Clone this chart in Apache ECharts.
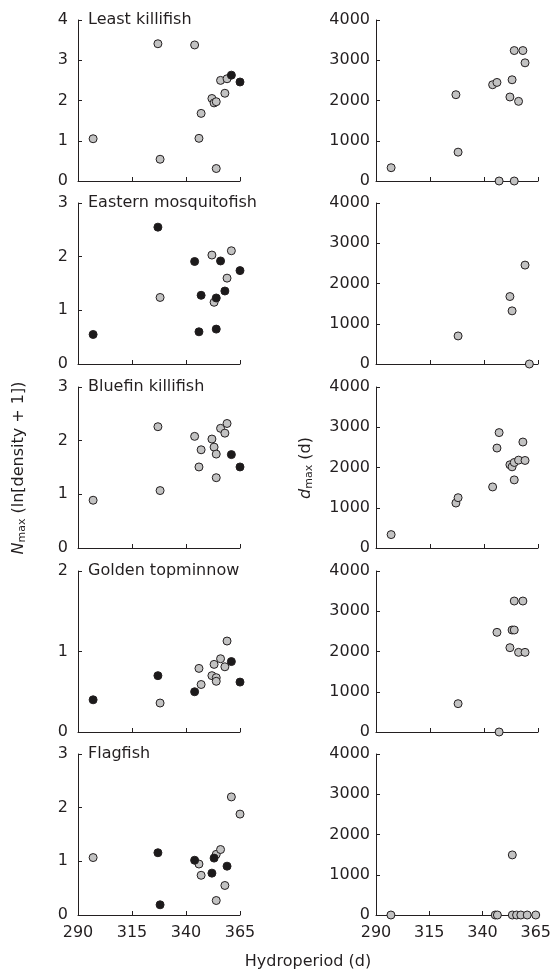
<!DOCTYPE html>
<html>
<head>
<meta charset="utf-8">
<script src="https://cdn.jsdelivr.net/npm/echarts@6/dist/echarts.min.js"></script>
<style>
  html, body { margin: 0; padding: 0; background: #fff; }
  #chart { width: 554px; height: 980px; }
</style>
</head>
<body>
<div id="chart"></div>
<script>
// Species shown in each row (top to bottom)
const species = ['Least killifish', 'Eastern mosquitofish', 'Bluefin killifish', 'Golden topminnow', 'Flagfish']
const hydroTicks = [290, 315, 340, 365]
const nmaxTop = [4, 3, 3, 2, 3]
const dmaxTicks = [0, 1000, 2000, 3000, 4000]

// Nmax, [hydroperiod, ln(density + 1)] - grey = sites with dmax, black = others
const leastGrey = [[297, 1.05], [327, 3.41], [328, 0.54], [344, 3.38], [346, 1.06], [347, 1.68], [352, 2.05], [353, 1.94], [354, 1.97], [354, 0.31], [356, 2.5], [358, 2.18], [359, 2.54]]
const leastBlack = [[361, 2.63], [365, 2.46]]
const mosqGrey = [[328, 1.24], [352, 2.03], [353, 1.15], [359, 1.6], [361, 2.11]]
const mosqBlack = [[297, 0.55], [327, 2.55], [344, 1.91], [346, 0.6], [347, 1.28], [354, 1.23], [354, 0.65], [356, 1.92], [358, 1.36], [365, 1.74]]
const bluefinGrey = [[297, 0.89], [327, 2.26], [328, 1.07], [344, 2.08], [346, 1.51], [347, 1.83], [352, 2.03], [353, 1.88], [354, 1.75], [354, 1.31], [356, 2.23], [358, 2.14], [359, 2.32]]
const bluefinBlack = [[361, 1.74], [365, 1.51]]
const goldenGrey = [[328, 0.36], [346, 0.79], [347, 0.59], [352, 0.7], [353, 0.84], [354, 0.675], [354, 0.63], [356, 0.91], [358, 0.81], [359, 1.13]]
const goldenBlack = [[297, 0.4], [327, 0.7], [344, 0.5], [361, 0.875], [365, 0.62]]
const flagGrey = [[297, 1.07], [346, 0.95], [347, 0.74], [354, 1.13], [354, 0.27], [356, 1.22], [358, 0.55], [361, 2.2], [365, 1.88]]
const flagBlack = [[327, 1.16], [328, 0.19], [344, 1.02], [352, 0.78], [353, 1.06], [359, 0.91]]

// dmax, [hydroperiod, days]
const leastDays = [[297, 330], [327, 2144], [328, 717], [344, 2392], [346, 2449], [347, 0], [352, 2087], [353, 2515], [354, 3241], [354, 0], [356, 1979], [358, 3241], [359, 2936]]
const mosqDays = [[328, 697], [352, 1676], [353, 1320], [359, 2457], [361, 0]]
const bluefinDays = [[297, 333], [327, 1117], [328, 1250], [344, 1517], [346, 2483], [347, 2867], [352, 2067], [353, 2017], [354, 1692], [354, 2125], [356, 2183], [358, 2633], [359, 2175]]
const goldenDays = [[328, 704], [346, 2476], [347, 0], [352, 2095], [353, 2534], [354, 2534], [354, 3254], [356, 1979], [358, 3254], [359, 1979]]
const flagDays = [[297, 0], [346, 0], [347, 0], [354, 1493], [354, 0], [356, 0], [358, 0], [361, 0], [365, 0]]

const greyPts = [leastGrey, mosqGrey, bluefinGrey, goldenGrey, flagGrey]
const blackPts = [leastBlack, mosqBlack, bluefinBlack, goldenBlack, flagBlack]
const dayPts = [leastDays, mosqDays, bluefinDays, goldenDays, flagDays]

const FONT = '"DejaVu Sans", Verdana, sans-serif'
const FS = 16
const INK = '#231f20'
const tops = [20, 203, 387, 571, 754]
const panelH = 161
const panelW = 162
const leftX = 78
const rightX = 376

const chart = echarts.init(document.getElementById('chart'), null, { renderer: 'canvas' })

const grid = []
const xAxis = []
const yAxis = []
const series = []
const graphic = []

const axisLine = { show: true, lineStyle: { color: INK, width: 1 } }
const axisTick = { show: true, inside: true, length: 4, lineStyle: { color: INK, width: 1 } }

const dot = (fill) => ({
  color: fill,
  borderColor: INK,
  borderWidth: 1,
  opacity: 1
})

species.forEach((name, i) => {
  const last = i === species.length - 1
  ;[leftX, rightX].forEach((gx, side) => {
    const g = grid.length
    grid.push({ left: gx, top: tops[i], width: panelW, height: panelH })
    xAxis.push({
      type: 'value',
      gridIndex: g,
      min: hydroTicks[0],
      max: hydroTicks[hydroTicks.length - 1],
      interval: 25,
      axisLine,
      axisTick,
      splitLine: { show: false },
      axisLabel: {
        show: last,
        color: INK,
        fontSize: FS,
        fontFamily: FONT,
        margin: 10
      }
    })
    yAxis.push({
      type: 'value',
      gridIndex: g,
      min: 0,
      max: side === 0 ? nmaxTop[i] : dmaxTicks[dmaxTicks.length - 1],
      interval: side === 0 ? 1 : 1000,
      axisLine,
      axisTick,
      splitLine: { show: false },
      axisLabel: {
        color: INK,
        fontSize: FS,
        fontFamily: FONT,
        margin: side === 0 ? 10 : 6,
        formatter: (v) => String(v)
      }
    })
    if (side === 0) {
      series.push({
        type: 'scatter', xAxisIndex: g, yAxisIndex: g, data: greyPts[i],
        symbolSize: 8, itemStyle: dot('#c2c2c2'), clip: false, silent: true
      })
      series.push({
        type: 'scatter', xAxisIndex: g, yAxisIndex: g, data: blackPts[i],
        symbolSize: 8, itemStyle: dot('#1c1a1b'), clip: false, silent: true
      })
    } else {
      series.push({
        type: 'scatter', xAxisIndex: g, yAxisIndex: g, data: dayPts[i],
        symbolSize: 8, itemStyle: dot('#c2c2c2'), clip: false, silent: true
      })
    }
  })
  // species name in the corner of the left panel
  graphic.push({
    type: 'text',
    x: leftX + 10,
    y: tops[i],
    style: {
      text: name, fill: INK, fontSize: FS, fontFamily: FONT,
      align: 'left', verticalAlign: 'middle'
    }
  })
})

const richLabel = {
  i: { fontSize: FS, fontStyle: 'italic', fontFamily: FONT, fill: INK },
  s: { fontSize: 11, fontFamily: FONT, fill: INK, padding: [7, 0, 0, 0] },
  t: { fontSize: FS, fontFamily: FONT, fill: INK }
}

// axis titles
graphic.push({
  type: 'text',
  x: 19,
  y: 468,
  rotation: Math.PI / 2,
  style: {
    text: '{i|N}{s|max}{t| (ln[density + 1])}',
    align: 'center',
    verticalAlign: 'middle',
    rich: richLabel
  }
})
graphic.push({
  type: 'text',
  x: 306,
  y: 468,
  rotation: Math.PI / 2,
  style: {
    text: '{i|d}{s|max}{t| (d)}',
    align: 'center',
    verticalAlign: 'middle',
    rich: richLabel
  }
})
graphic.push({
  type: 'text',
  x: 308,
  y: 962,
  style: {
    text: 'Hydroperiod (d)',
    fill: INK,
    fontSize: FS,
    fontFamily: FONT,
    align: 'center',
    verticalAlign: 'middle'
  }
})

chart.setOption({
  animation: false,
  backgroundColor: '#fff',
  grid,
  xAxis,
  yAxis,
  series,
  graphic
})
</script>
</body>
</html>
